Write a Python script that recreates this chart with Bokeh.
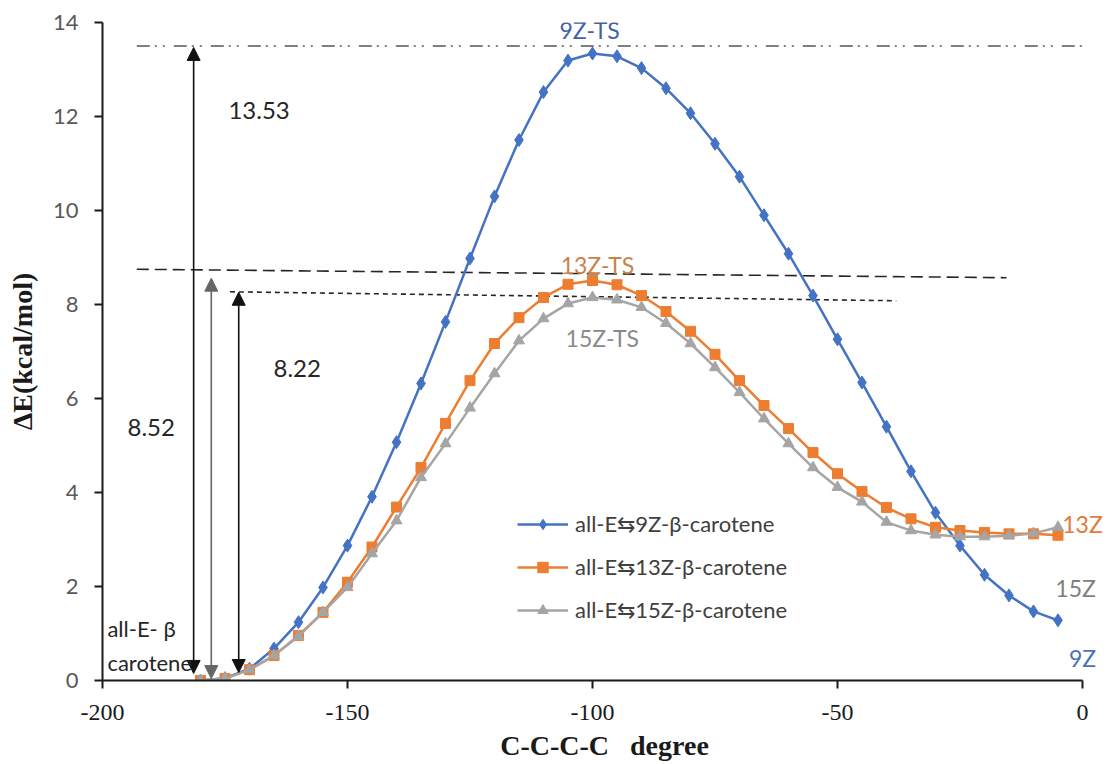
from bokeh.plotting import figure
from bokeh.models import (Label, Arrow, NormalHead, Legend, LegendItem, Range1d,
                          FixedTicker, ColumnDataSource)
from bokeh.embed import file_html
from bokeh.resources import INLINE

# ---------------- data ----------------
angle = [-180, -175, -170, -165, -160, -155, -150, -145, -140, -135, -130, -125,
         -120, -115, -110, -105, -100, -95, -90, -85, -80, -75, -70, -65,
         -60, -55, -50, -45, -40, -35, -30, -25, -20, -15, -10, -5]

e_9z = [0.0, 0.05, 0.25, 0.68, 1.24, 1.98, 2.87, 3.91, 5.07, 6.32, 7.63, 8.98,
        10.30, 11.50, 12.52, 13.19, 13.34, 13.28, 13.03, 12.60, 12.07, 11.42, 10.72, 9.90,
        9.08, 8.19, 7.26, 6.34, 5.40, 4.45, 3.57, 2.87, 2.25, 1.81, 1.47, 1.28]

e_13z = [0.0, 0.04, 0.23, 0.53, 0.96, 1.45, 2.09, 2.84, 3.69, 4.53, 5.47, 6.38,
         7.17, 7.72, 8.15, 8.43, 8.51, 8.42, 8.19, 7.85, 7.43, 6.94, 6.38, 5.85,
         5.36, 4.85, 4.40, 4.02, 3.68, 3.44, 3.26, 3.19, 3.15, 3.12, 3.12, 3.09]

e_15z = [0.0, 0.04, 0.23, 0.53, 0.94, 1.45, 1.98, 2.70, 3.40, 4.32, 5.04, 5.80,
         6.53, 7.23, 7.70, 8.02, 8.15, 8.10, 7.94, 7.60, 7.17, 6.66, 6.13, 5.57,
         5.04, 4.53, 4.11, 3.80, 3.37, 3.19, 3.10, 3.06, 3.06, 3.08, 3.13, 3.26]

series_labels = ["all-E\u21c69Z-\u03b2-carotene",
                 "all-E\u21c613Z-\u03b2-carotene",
                 "all-E\u21c615Z-\u03b2-carotene"]

x_ticks = [-200, -150, -100, -50, 0]
y_ticks = [0, 2, 4, 6, 8, 10, 12, 14]

# barrier annotations (text, arrow x, arrow bottom, arrow top)
barrier_text = ["13.53", "8.52", "8.22"]
barrier_arrow_x = [-181.4, -177.8, -172.2]
barrier_arrow_y0 = [0.15, 0.04, 0.17]
barrier_arrow_y1 = [13.47, 8.56, 8.26]

# reference level lines (x0, y0, x1, y1)
level_x0 = [-193.0, -193.0, -174.0]
level_y0 = [13.50, 8.75, 8.27]
level_x1 = [0.0, -15.5, -38.0]
level_y1 = [13.50, 8.57, 8.08]

BLUE = "#4472C4"
ORANGE = "#ED7D31"
GRAY = "#A5A5A5"

p = figure(width=1106, height=764,
           x_range=Range1d(-200, 4.9), y_range=Range1d(0, 14),
           output_backend="svg", toolbar_location=None,
           min_border_left=102, min_border_right=0,
           min_border_top=22, min_border_bottom=84)

p.outline_line_color = None
p.xgrid.grid_line_color = None
p.ygrid.grid_line_color = None
p.background_fill_color = "white"
p.border_fill_color = "white"

# axes
p.xaxis.ticker = FixedTicker(ticks=x_ticks)
p.yaxis.ticker = FixedTicker(ticks=y_ticks)
p.xaxis.bounds = (x_ticks[0], x_ticks[-1])
p.xaxis.major_label_overrides = {t: str(t) for t in x_ticks}
for ax in (p.xaxis[0], p.yaxis[0]):
    ax.axis_line_color = "#1a1a1a"
    ax.axis_line_width = 2
    ax.major_tick_line_color = "#1a1a1a"
    ax.major_tick_line_width = 2
    ax.major_tick_in = 0
    ax.major_tick_out = 8
    ax.minor_tick_line_color = None

p.xaxis.major_label_text_font = "Liberation Serif"
p.xaxis.major_label_text_font_size = "24px"
p.xaxis.major_label_text_color = "#1a1a1a"
p.xaxis.major_label_standoff = 16
p.xaxis.axis_label = "C-C-C-C \u00a0 degree"
p.xaxis.axis_label_text_font = "Liberation Serif"
p.xaxis.axis_label_text_font_style = "bold"
p.xaxis.axis_label_text_font_size = "28px"
p.xaxis.axis_label_text_color = "#1a1a1a"
p.xaxis.axis_label_standoff = 7

p.yaxis.major_label_text_font = "Lato"
p.yaxis.major_label_text_font_size = "22px"
p.yaxis.major_label_text_color = "#595959"
p.yaxis.major_label_standoff = 16
p.yaxis.axis_label = "\u0394E(kcal/mol)"
p.yaxis.axis_label_text_font = "Liberation Serif"
p.yaxis.axis_label_text_font_style = "bold"
p.yaxis.axis_label_text_font_size = "28px"
p.yaxis.axis_label_text_color = "#1a1a1a"
p.yaxis.axis_label_standoff = 12

# reference level lines
lvl_styles = [dict(line_color="#7F7F7F", line_dash="13 5 2 6 2 9", line_width=2),
              dict(line_color="#262626", line_dash="12 6", line_width=1.6),
              dict(line_color="#262626", line_dash="5 4", line_width=1.6)]
for i, st in enumerate(lvl_styles):
    p.segment(x0=[level_x0[i]], y0=[level_y0[i]], x1=[level_x1[i]], y1=[level_y1[i]], **st)

# arrows
arrow_colors = ["#111111", "#666666", "#111111"]
for i in range(3):
    p.add_layout(Arrow(
        start=NormalHead(size=13, fill_color=arrow_colors[i], line_color=arrow_colors[i]),
        end=NormalHead(size=13, fill_color=arrow_colors[i], line_color=arrow_colors[i]),
        x_start=barrier_arrow_x[i], y_start=barrier_arrow_y0[i],
        x_end=barrier_arrow_x[i], y_end=barrier_arrow_y1[i],
        line_color=arrow_colors[i], line_width=1.6))

# series
src = ColumnDataSource(dict(x=angle, a=e_9z, b=e_13z, c=e_15z))
items = []
specs = [("a", BLUE, "diamond", 13), ("b", ORANGE, "square", 10), ("c", GRAY, "triangle", 11)]
for (col, color, marker, size), lab in zip(specs, series_labels):
    lr = p.line("x", col, source=src, line_color=color, line_width=2.5)
    sr = p.scatter("x", col, source=src, marker=marker, size=size,
                   fill_color=color, line_color=color)
    items.append(LegendItem(label=lab, renderers=[lr, sr]))

legend = Legend(items=items, location=(415, 57), orientation="vertical",
                padding=0, margin=0, spacing=16,
                glyph_width=51, glyph_height=26, label_height=26,
                label_standoff=7,
                label_text_font="Lato", label_text_font_size="22px",
                label_text_color="#404040",
                background_fill_alpha=0, border_line_alpha=0)
p.add_layout(legend, "center")

# text annotations
def add_label(x, y, text, color, size, align="left"):
    p.add_layout(Label(x=x, y=y, text=text, text_font="Lato", text_font_size=size,
                       text_color=color, text_align=align, text_baseline="middle"))

add_label(-174.3, 12.13, barrier_text[0], "#262626", "24px")
add_label(-194.9, 5.38, barrier_text[1], "#262626", "24px")
add_label(-165.1, 6.64, barrier_text[2], "#262626", "24px")
add_label(-199.0, 1.10, "all-E- \u03b2", "#262626", "22px")
add_label(-199.0, 0.38, "carotene", "#262626", "22px")

add_label(-100.6, 13.83, "9Z-TS", "#3F62A8", "23px", "center")
add_label(-99.0, 8.83, "13Z-TS", "#C9824A", "23px", "center")
add_label(-98.0, 7.28, "15Z-TS", "#8A8A8A", "23px", "center")
add_label(0.0, 3.34, "13Z", "#E07B39", "23px", "center")
add_label(-1.4, 1.96, "15Z", "#7F7F7F", "23px", "center")
add_label(0.0, 0.47, "9Z", "#4A72B8", "23px", "center")

open("out.html", "w").write(file_html(p, INLINE))
